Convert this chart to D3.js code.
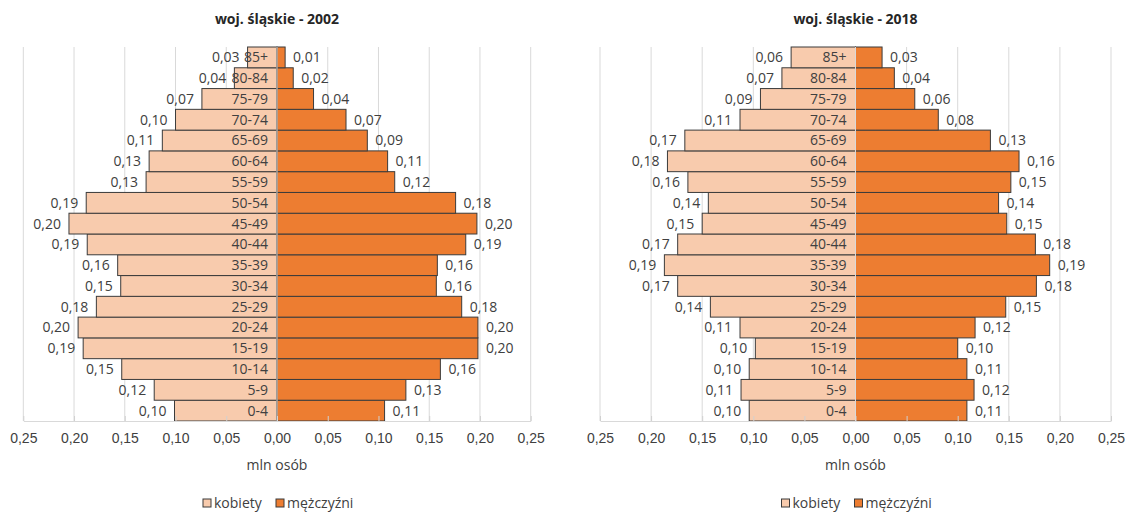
<!DOCTYPE html>
<html>
<head>
<meta charset="utf-8">
<script src="https://cdn.jsdelivr.net/npm/d3@7"></script>
<style>
  body { margin: 0; background: #fff; }
  svg { font-family: "Open Sans", "Noto Sans", sans-serif; }
</style>
</head>
<body>
<svg id="chart" width="1125" height="516"></svg>
<script>
const ageGroups = ["0-4", "5-9", "10-14", "15-19", "20-24", "25-29", "30-34", "35-39", "40-44",
  "45-49", "50-54", "55-59", "60-64", "65-69", "70-74", "75-79", "80-84", "85+"];

// mln osób, od 0-4 do 85+
const women2002 = [0.101, 0.121, 0.153, 0.191, 0.196, 0.178, 0.154, 0.157, 0.187,
  0.205, 0.188, 0.129, 0.126, 0.113, 0.100, 0.074, 0.042, 0.029];
const men2002 = [0.106, 0.127, 0.161, 0.198, 0.198, 0.182, 0.157, 0.158, 0.186,
  0.197, 0.176, 0.116, 0.109, 0.089, 0.068, 0.036, 0.016, 0.008];
const women2018 = [0.104, 0.112, 0.104, 0.098, 0.113, 0.142, 0.174, 0.187, 0.174,
  0.150, 0.144, 0.164, 0.184, 0.167, 0.113, 0.093, 0.072, 0.063];
const men2018 = [0.109, 0.116, 0.109, 0.100, 0.117, 0.147, 0.177, 0.190, 0.176,
  0.148, 0.140, 0.152, 0.160, 0.132, 0.081, 0.058, 0.038, 0.026];

const ticks = [-0.25, -0.2, -0.15, -0.1, -0.05, 0, 0.05, 0.1, 0.15, 0.2, 0.25];

const panels = [
  { title: "woj. śląskie - 2002", women: women2002, men: men2002, left: 23.3, right: 530.7 },
  { title: "woj. śląskie - 2018", women: women2018, men: men2018, left: 600, right: 1111 }
];

const colWomen = "#F8CBAD";
const colMen = "#ED7D31";
const plotTop = 47, plotBottom = 421;
const fmt = v => d3.format(".2f")(Math.abs(v)).replace(".", ",");

const svg = d3.select("#chart");

panels.forEach(p => {
  const g = svg.append("g");
  const x = d3.scaleLinear().domain([-0.25, 0.25]).range([p.left, p.right]);
  const y = d3.scaleBand().domain(ageGroups.slice().reverse()).range([plotTop, plotBottom]).padding(0);
  const cx = x(0);

  g.append("text")
    .attr("x", cx).attr("y", 24)
    .attr("text-anchor", "middle")
    .attr("font-weight", "bold")
    .attr("font-size", 14)
    .attr("fill", "#262626")
    .text(p.title);

  // siatka
  g.selectAll(".grid")
    .data(ticks)
    .join("line")
    .attr("class", "grid")
    .attr("x1", d => x(d)).attr("x2", d => x(d))
    .attr("y1", plotTop).attr("y2", plotBottom)
    .attr("stroke", "#d9d9d9");

  const rows = ageGroups.map((a, i) => ({ age: a, w: p.women[i], m: p.men[i] }));

  g.selectAll(".bw")
    .data(rows)
    .join("rect")
    .attr("class", "bw")
    .attr("x", d => x(-d.w))
    .attr("y", d => y(d.age))
    .attr("width", d => cx - x(-d.w))
    .attr("height", y.bandwidth())
    .attr("fill", colWomen)
    .attr("stroke", "#3b3b3b")
    .attr("stroke-width", 1);

  g.selectAll(".bm")
    .data(rows)
    .join("rect")
    .attr("class", "bm")
    .attr("x", cx)
    .attr("y", d => y(d.age))
    .attr("width", d => x(d.m) - cx)
    .attr("height", y.bandwidth())
    .attr("fill", colMen)
    .attr("stroke", "#3b3b3b")
    .attr("stroke-width", 1);

  // oś x
  const axis = d3.axisBottom(x).tickValues(ticks).tickFormat(fmt).tickSizeInner(-5).tickSizeOuter(0).tickPadding(12);
  const ax = g.append("g").attr("transform", `translate(0,${plotBottom})`).call(axis);
  ax.select(".domain").attr("stroke", "#d9d9d9");
  ax.selectAll(".tick line").attr("stroke", "#d0d0d0");
  ax.selectAll(".tick text").attr("font-size", 14).attr("fill", "#404040").attr("font-family", null);

  g.append("line")
    .attr("x1", cx).attr("x2", cx)
    .attr("y1", plotTop).attr("y2", plotBottom)
    .attr("stroke", "#d9d9d9");

  g.selectAll(".age")
    .data(rows)
    .join("text")
    .attr("class", "age")
    .attr("x", cx - 9)
    .attr("y", d => y(d.age) + y.bandwidth() / 2)
    .attr("dy", "0.35em")
    .attr("text-anchor", "end")
    .attr("font-size", 14)
    .attr("fill", "#404040")
    .text(d => d.age);

  g.selectAll(".lw")
    .data(rows)
    .join("text")
    .attr("class", "lw")
    .attr("x", d => x(-d.w) - 8)
    .attr("y", d => y(d.age) + y.bandwidth() / 2)
    .attr("dy", "0.35em")
    .attr("text-anchor", "end")
    .attr("font-size", 14)
    .attr("fill", "#404040")
    .text(d => fmt(d.w));

  g.selectAll(".lm")
    .data(rows)
    .join("text")
    .attr("class", "lm")
    .attr("x", d => x(d.m) + 8)
    .attr("y", d => y(d.age) + y.bandwidth() / 2)
    .attr("dy", "0.35em")
    .attr("font-size", 14)
    .attr("fill", "#404040")
    .text(d => fmt(d.m));

  g.append("text")
    .attr("x", cx).attr("y", 470)
    .attr("text-anchor", "middle")
    .attr("font-size", 14)
    .attr("fill", "#404040")
    .text("mln osób");

  // legenda
  const leg = g.append("g").attr("transform", `translate(${cx - 74},508)`);
  const items = [{ label: "kobiety", color: colWomen, dx: 0 }, { label: "mężczyźni", color: colMen, dx: 73 }];
  items.forEach(it => {
    leg.append("rect")
      .attr("x", it.dx).attr("y", -9)
      .attr("width", 8).attr("height", 8)
      .attr("fill", it.color)
      .attr("stroke", "#3b3b3b");
    leg.append("text")
      .attr("x", it.dx + 11).attr("y", 0)
      .attr("font-size", 14)
      .attr("fill", "#404040")
      .text(it.label);
  });
});
</script>
</body>
</html>
